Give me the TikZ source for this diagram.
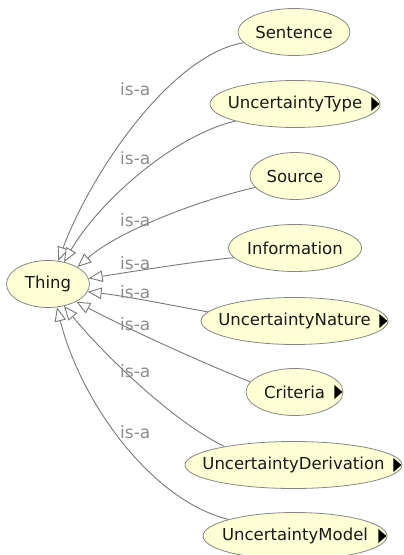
\documentclass[tikz,border=0pt]{standalone}
\usepackage{fontspec}
\setmainfont{DejaVu Sans}
\usetikzlibrary{arrows.meta,shapes.geometric}
\definecolor{nodefill}{RGB}{255,255,214}
\definecolor{nodeline}{RGB}{135,135,135}
\definecolor{edgeline}{RGB}{120,120,120}
\definecolor{lblgray}{RGB}{140,140,140}
\definecolor{txt}{RGB}{25,25,25}
\begin{document}
\begin{tikzpicture}[x=1pt,y=-1pt,
  cls/.style={ellipse, draw=nodeline, fill=nodefill, line width=0.8pt, minimum height=47pt, inner xsep=-200pt, inner ysep=-40pt, text=txt, font=\fontsize{16.5}{19}\selectfont},
  isa/.style={draw=edgeline, line width=0.9pt, -{Triangle[fill=white, length=14pt, width=11.5pt, line width=0.9pt]}},
  lbl/.style={text=lblgray, font=\fontsize{17}{20}\selectfont, inner sep=0pt, anchor=base west},
  moretri/.style={fill=black}]
\useasboundingbox (0,0) rectangle (404,555);
% nodes
\node[cls, minimum width=112pt] (sentence) at (294,32) {Sentence};
\node[cls, minimum width=170pt] (utype) at (295,104) {UncertaintyType};
\node[cls, minimum width=90pt] (source) at (295,176) {Source};
\node[cls, minimum width=133pt] (info) at (295,248) {Information};
\node[cls, minimum width=83pt] (thing) at (48,284) {Thing};
\node[cls, minimum width=187pt] (unature) at (294.5,321) {UncertaintyNature};
\node[cls, minimum width=97pt] (criteria) at (294.5,392) {Criteria};
\node[cls, minimum width=217pt] (uderiv) at (293.5,465) {UncertaintyDerivation};
\node[cls, minimum width=184pt] (umodel) at (295,536) {UncertaintyModel};
% subclass markers
\foreach \n in {utype,unature,criteria,uderiv,umodel}
  \fill[moretri] (\n.east) ++(-1,0) -- ++(-8,-7) -- ++(0,14) -- cycle;
% is-a edges
\draw[isa] (sentence.192) .. controls (170,55) and (90,175) .. (thing.66);
\draw[isa] (utype.196) .. controls (175,135) and (100,200) .. (thing.54);
\draw[isa] (source.196) .. controls (200,200) and (120,230) .. (thing.30);
\draw[isa] (info.189) .. controls (190,262) and (130,272) .. (thing.8);
\draw[isa] (unature.174) .. controls (170,305) and (125,296) .. (thing.-11);
\draw[isa] (criteria.167) .. controls (200,362) and (120,325) .. (thing.-32);
\draw[isa] (uderiv.165) .. controls (170,420) and (100,350) .. (thing.-54);
\draw[isa] (umodel.166) .. controls (150,500) and (80,400) .. (thing.-69);
% labels
\node[lbl] (l1) at (120,95) {is-a};
\node[lbl] (l2) at (120,164) {is-a};
\node[lbl] (l3) at (120,226) {is-a};
\node[lbl] (l4) at (120,269) {is-a};
\node[lbl] (l5) at (120,298) {is-a};
\node[lbl] (l6) at (120,330) {is-a};
\node[lbl] (l7) at (120,377) {is-a};
\node[lbl] (l8) at (120,438) {is-a};
\end{tikzpicture}
\end{document}
